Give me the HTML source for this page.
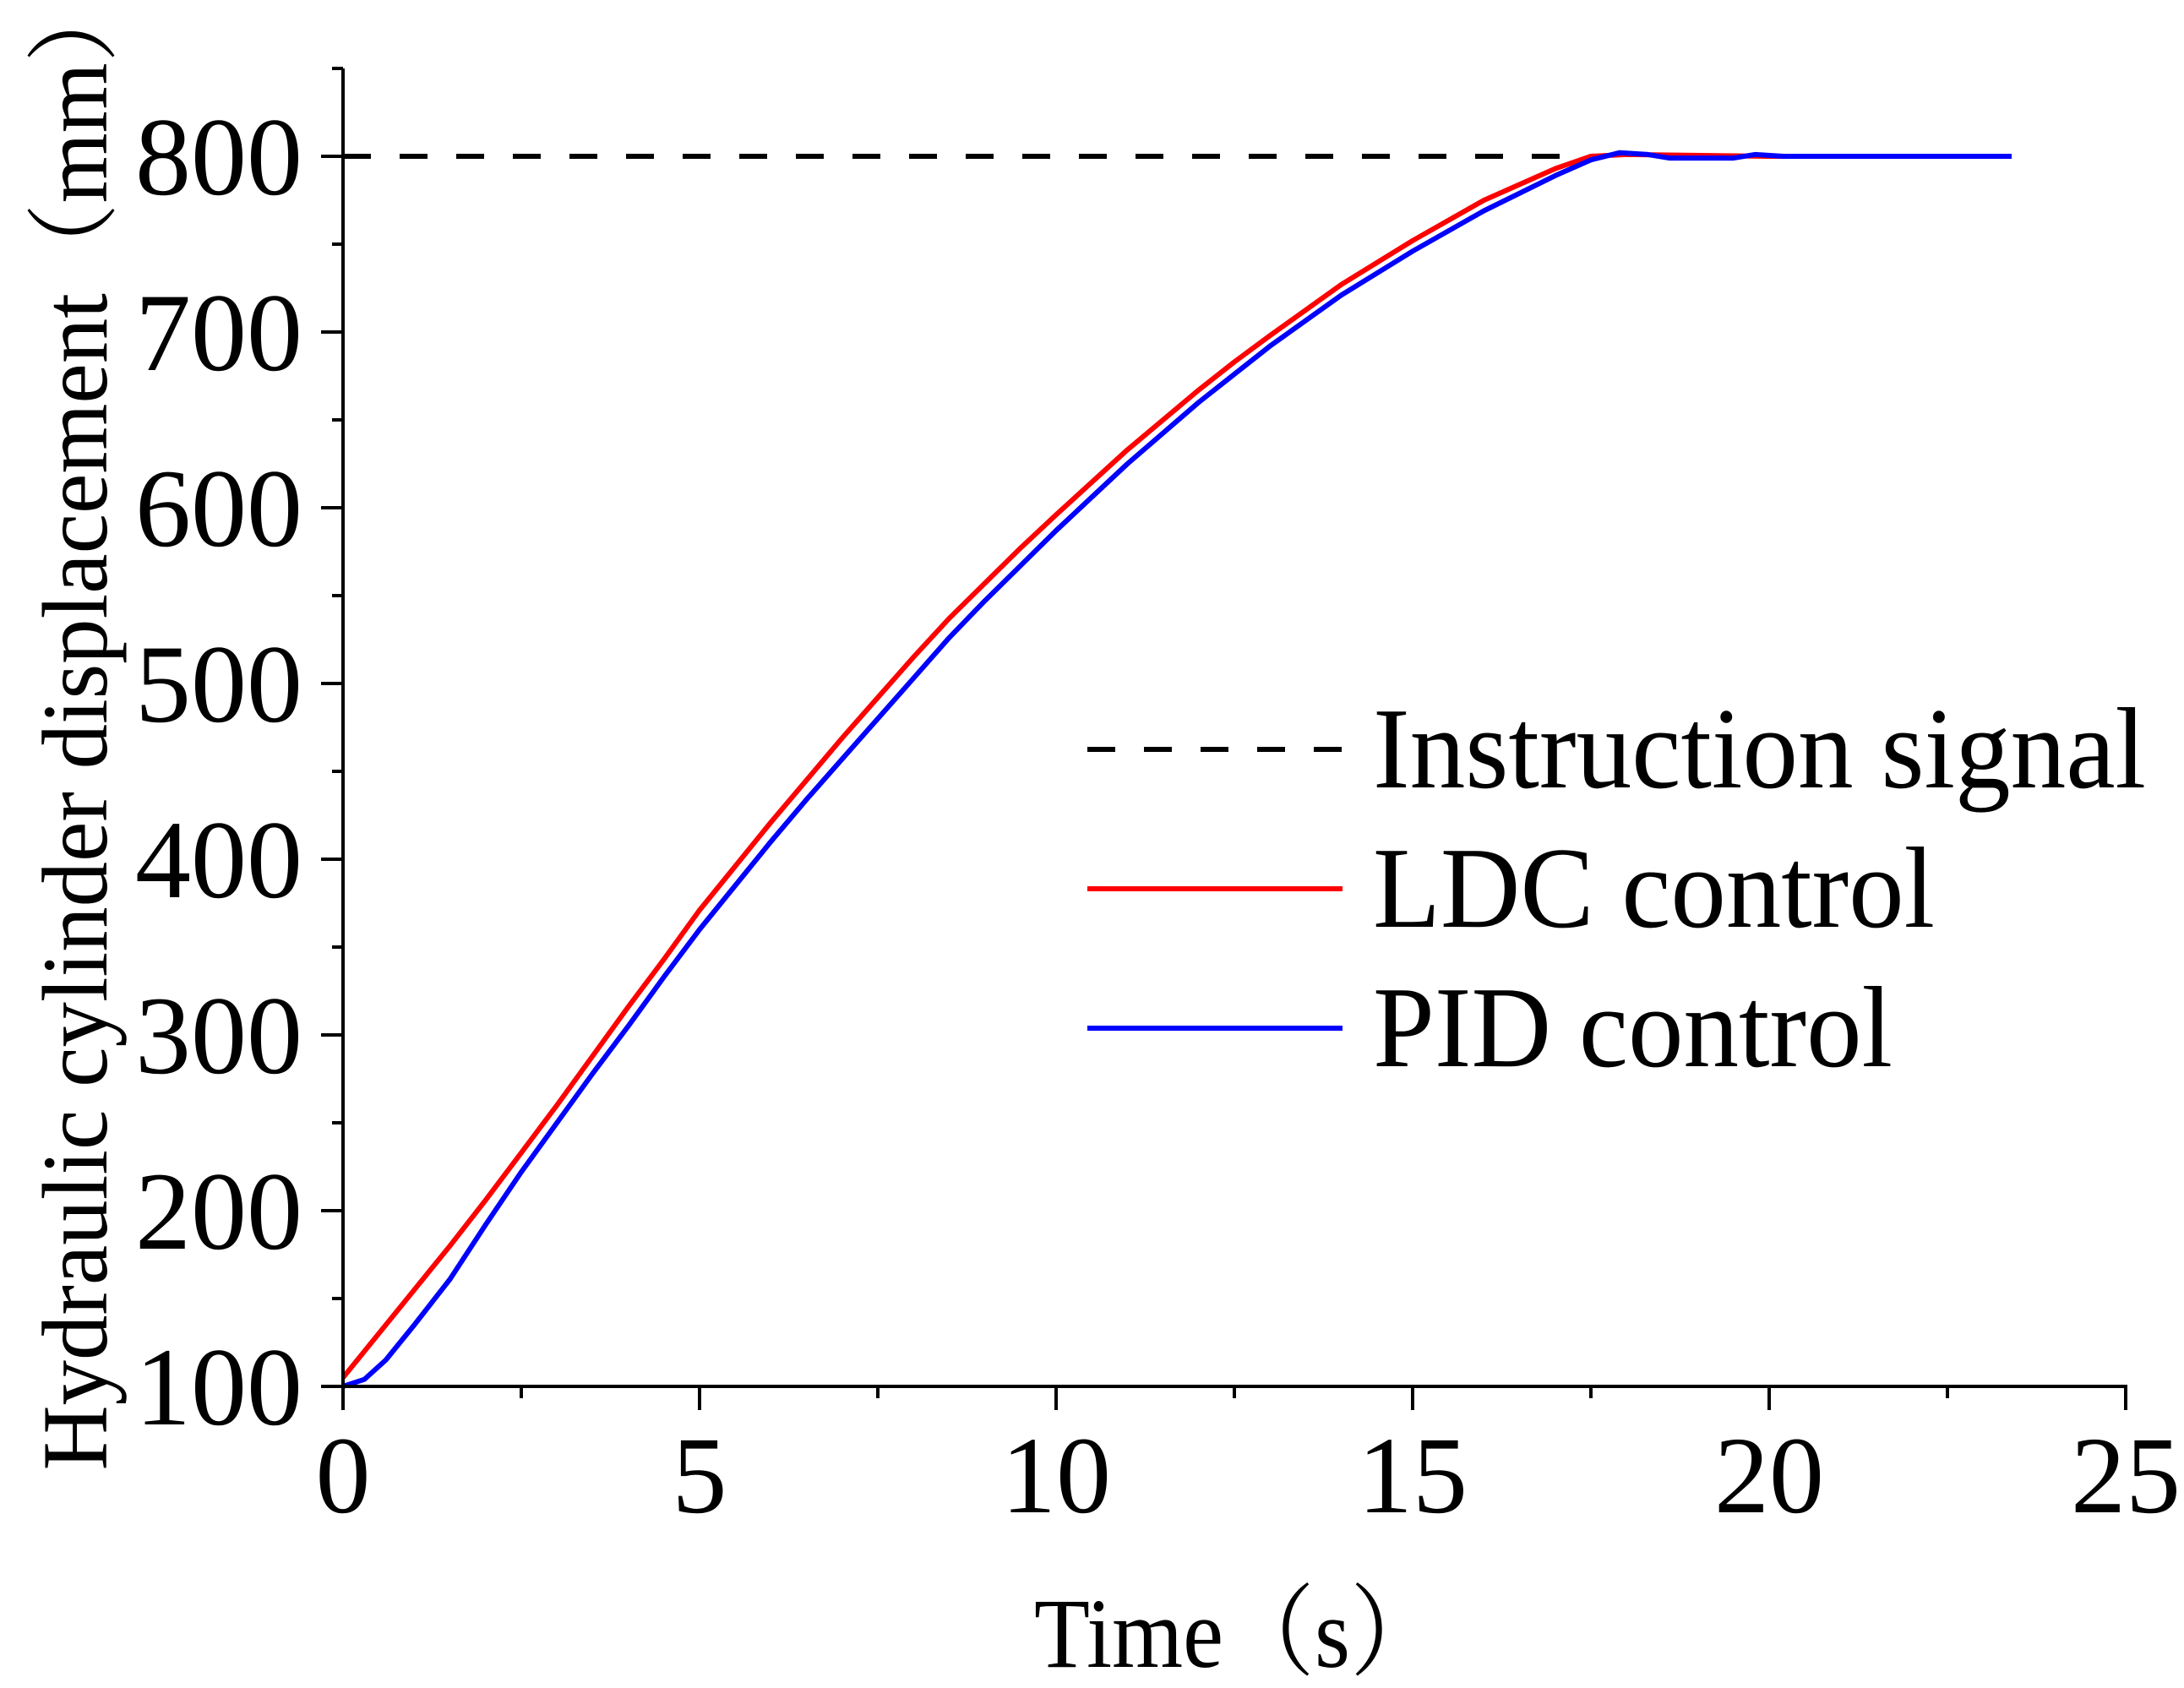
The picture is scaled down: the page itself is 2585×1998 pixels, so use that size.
<!DOCTYPE html>
<html><head><meta charset="utf-8"><style>html,body{margin:0;padding:0;background:#fff}svg{display:block}</style></head>
<body>
<svg id="chart" width="2585" height="1998" viewBox="0 0 2585 1998" xmlns="http://www.w3.org/2000/svg" font-family="'Liberation Serif', 'Noto Serif CJK SC', serif">
<g id="plot"></g>
<g id="axes"></g>
<text transform="translate(126,854) rotate(-90)" text-anchor="middle" font-size="110" textLength="1773" lengthAdjust="spacingAndGlyphs">Hydraulic cylinder displacement（mm）</text>
<text x="1224" y="1973" font-size="118" textLength="482" lengthAdjust="spacingAndGlyphs">Time（s）</text>
<g>
<line x1="1287" y1="887" x2="1589" y2="887" stroke="#000" stroke-width="6" stroke-dasharray="33,34"/>
<text x="1625" y="932" font-size="137" textLength="915" lengthAdjust="spacingAndGlyphs">Instruction signal</text>
<line x1="1287" y1="1052" x2="1589" y2="1052" stroke="#ff0000" stroke-width="6"/>
<text x="1625" y="1097" font-size="137" textLength="665" lengthAdjust="spacingAndGlyphs">LDC control</text>
<line x1="1287" y1="1217" x2="1589" y2="1217" stroke="#0000ff" stroke-width="6"/>
<text x="1625" y="1262" font-size="137" textLength="615" lengthAdjust="spacingAndGlyphs">PID control</text>
</g>
</svg>
<script>
const ldcT = [0,0.5,1,1.5,2,2.5,3,3.5,4,4.5,5,5.5,6,6.5,7,7.5,8,8.5,9,9.5,10,11,12,12.5,13,14,15,16,17,17.5,18,20,23.4];
const ldcV = [105,130,155,180,206,233,260,288,316,343,371,396,421,445,469,492,515,537,557,577,596,633,667,683,698,727,752,775,793,800,801,800,800];
const pidT = [0,0.3,0.6,1,1.5,2,2.5,3,3.5,4,4.5,5,5.5,6,6.5,7,7.5,8,8.5,9,9.5,10,11,12,12.5,13,14,15,16,17,17.5,17.9,18.3,18.6,19.5,19.8,20.2,23.4];
const pidV = [100,104,115,135,161,192,222,250,278,305,333,360,385,410,434,457,480,503,526,547,567,587,625,660,676,692,721,746,769,789,798,802,801,799,799,801,800,800];
const instrT = [0,17.4];
const instrV = [800,800];
const xTicks = [0,5,10,15,20,25];
const yTicks = [100,200,300,400,500,600,700,800];

const NS = 'http://www.w3.org/2000/svg';
const X0 = 406, XPU = 84.4, Y100 = 1641, YPU = 2.08;
function sx(t){ return X0 + t*XPU; }
function sy(v){ return Y100 - (v-100)*YPU; }
function mk(tag, attrs, parent){
  const e = document.createElementNS(NS, tag);
  for (const k in attrs) e.setAttribute(k, attrs[k]);
  parent.appendChild(e); return e;
}
const plot = document.getElementById('plot');
const axes = document.getElementById('axes');

function series(T, V, color, name, dash){
  const d = T.map((t,i)=>(i?'L':'M')+sx(t).toFixed(1)+','+sy(V[i]).toFixed(1)).join(' ');
  const p = mk('path', {d:d, fill:'none', stroke:color, 'stroke-width':6, 'stroke-linejoin':'round'}, plot);
  if (dash) p.setAttribute('stroke-dasharray', dash);
  
  
}
series(instrT, instrV, '#000', 'instruction-signal-line', '33,34');
series(ldcT, ldcV, '#ff0000', 'ldc-control-line');
series(pidT, pidV, '#0000ff', 'pid-control-line');

const ya = mk('line', {x1:X0, y1:sy(850), x2:X0, y2:Y100+2, stroke:'#000','stroke-width':4}, axes);


const xa = mk('line', {x1:X0-2, y1:Y100, x2:sx(25)+2, y2:Y100, stroke:'#000','stroke-width':4}, axes);



for (let t=0; t<=25.001; t+=2.5){
  const major = Math.abs(t % 5) < 0.01;
  const l = mk('line', {x1:sx(t), y1:Y100, x2:sx(t), y2:Y100+(major?28:14), stroke:'#000','stroke-width':4}, axes);
  
  
}
xTicks.forEach(t=>{
  const tx = mk('text', {x:sx(t), y:1790, 'text-anchor':'middle', 'font-size':130}, axes);
  tx.textContent = String(t);
  
  
});
for (let v=100; v<=850.001; v+=50){
  const major = Math.abs(v % 100) < 0.01;
  const l = mk('line', {x1:X0, y1:sy(v), x2:X0-(major?26:13), y2:sy(v), stroke:'#000','stroke-width':4}, axes);
  
  
}
yTicks.forEach(v=>{
  const tx = mk('text', {x:358, y:sy(v)+45, 'text-anchor':'end', 'font-size':132}, axes);
  tx.textContent = String(v);
  
  
});
</script>
</body></html>
